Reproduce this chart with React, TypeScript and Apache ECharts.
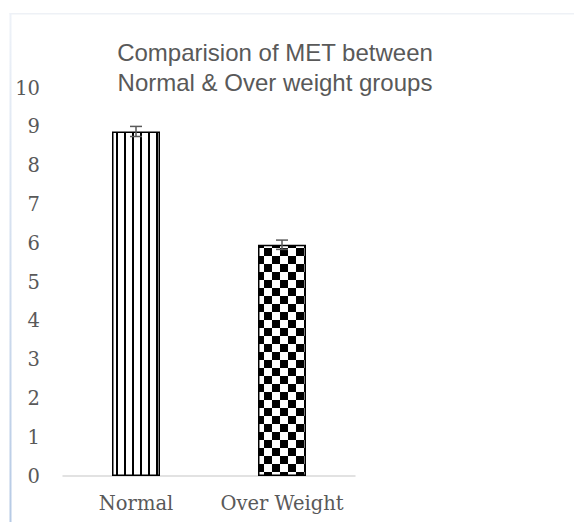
import React, { useEffect, useRef } from "react";
import * as echarts from "echarts";

const categories = ["Normal", "Over Weight"];
const metValues = [8.88, 5.96];
const metErrors = [0.13, 0.12];
const yTicks = [0, 1, 2, 3, 4, 5, 6, 7, 8, 9, 10];
const titleLines = ["Comparision of MET between", "Normal & Over weight groups"];

function stripePattern(): HTMLCanvasElement {
  const c = document.createElement("canvas");
  c.width = 8;
  c.height = 8;
  const ctx = c.getContext("2d")!;
  ctx.fillStyle = "#ffffff";
  ctx.fillRect(0, 0, 8, 8);
  ctx.fillStyle = "#000000";
  ctx.fillRect(4, 0, 2, 8);
  return c;
}

function checkerPattern(): HTMLCanvasElement {
  const c = document.createElement("canvas");
  c.width = 16;
  c.height = 16;
  const ctx = c.getContext("2d")!;
  ctx.fillStyle = "#ffffff";
  ctx.fillRect(0, 0, 16, 16);
  ctx.fillStyle = "#000000";
  ctx.fillRect(0, 0, 8, 8);
  ctx.fillRect(8, 8, 8, 8);
  return c;
}

export default function App() {
  const ref = useRef<HTMLDivElement>(null);

  useEffect(() => {
    if (!ref.current) return;
    const chart = echarts.init(ref.current, null, { renderer: "svg" });
    const patterns = [stripePattern(), checkerPattern()];
    const serif = "DejaVu Serif";
    const option: any = {
      animation: false,
      backgroundColor: "#ffffff",
      title: {
        text: titleLines.join("\n"),
        left: 270,
        top: 32,
        textAlign: "center",
        textStyle: {
          fontFamily: "Liberation Sans",
          fontSize: 24,
          lineHeight: 30,
          fontWeight: "normal",
          color: "#595959",
        },
      },
      graphic: [
        {
          type: "rect",
          shape: { x: 9.5, y: 13, width: 565, height: 1.5 },
          style: { fill: "#eef1f6" },
          silent: true,
        },
        {
          type: "rect",
          shape: { x: 9.5, y: 13, width: 2, height: 509 },
          style: {
            fill: new echarts.graphic.LinearGradient(0, 0, 0, 1, [
              { offset: 0, color: "#eef2f8" },
              { offset: 1, color: "#b6cae5" },
            ]),
          },
          silent: true,
        },
      ],
      grid: { left: 63, right: 219, top: 88, bottom: 46, containLabel: false },
      xAxis: {
        type: "category",
        data: categories,
        axisLine: { show: true, lineStyle: { color: "#d9d9d9", width: 1.5 } },
        axisTick: { show: false },
        axisLabel: {
          interval: 0,
          margin: 17,
          fontFamily: serif,
          fontSize: 19.5,
          color: "#595959",
        },
      },
      yAxis: {
        type: "value",
        min: yTicks[0],
        max: yTicks[yTicks.length - 1],
        interval: 1,
        axisLine: { show: false },
        axisTick: { show: false },
        splitLine: { show: false },
        axisLabel: {
          margin: 23,
          fontFamily: serif,
          fontSize: 19.5,
          color: "#595959",
        },
      },
      series: [
        {
          type: "bar",
          barWidth: 48,
          data: metValues.map((v, i) => ({
            value: v,
            itemStyle: {
              color: { image: patterns[i], repeat: "repeat" },
              borderColor: "#000000",
              borderWidth: 1.5,
            },
          })),
        },
        {
          type: "custom",
          data: metValues.map((v, i) => [i, v - metErrors[i], v + metErrors[i]]),
          z: 10,
          renderItem: (params: any, api: any) => {
            const lo = api.coord([api.value(0), api.value(1)]);
            const hi = api.coord([api.value(0), api.value(2)]);
            const hw = 6;
            const st = { stroke: "#595959", lineWidth: 1.5 };
            return {
              type: "group",
              children: [
                { type: "line", shape: { x1: lo[0], y1: lo[1], x2: hi[0], y2: hi[1] }, style: st },
                { type: "line", shape: { x1: lo[0] - hw, y1: lo[1], x2: lo[0] + hw, y2: lo[1] }, style: st },
                { type: "line", shape: { x1: hi[0] - hw, y1: hi[1], x2: hi[0] + hw, y2: hi[1] }, style: st },
              ],
            };
          },
        },
      ],
    };
    chart.setOption(option);
    return () => chart.dispose();
  }, []);

  return <div ref={ref} style={{ width: 574, height: 522, position: "absolute", left: 0, top: 0 }} />;
}
